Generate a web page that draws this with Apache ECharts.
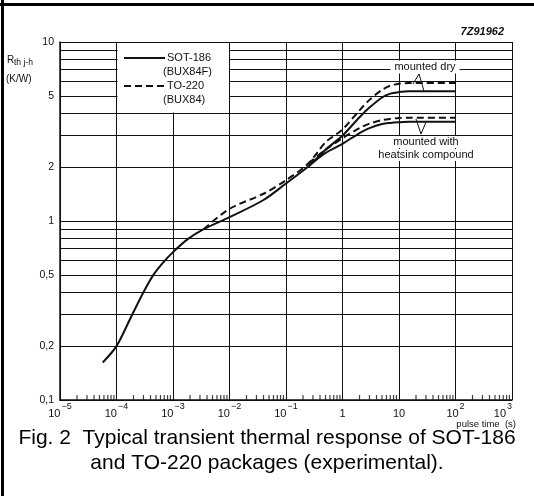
<!DOCTYPE html>
<html><head><meta charset="utf-8">
<script src="https://cdn.jsdelivr.net/npm/echarts@6/dist/echarts.min.js"></script>
<style>html,body{margin:0;padding:0;background:#fff}#c{width:534px;height:496px}</style>
</head><body><div id="c"></div>
<script>
// ---- tick labels ----
const xTickBase = ['10','10','10','10','10','1','10','10','10'];
const xTickExp  = ['−5','−4','−3','−2','−1','','','2','3'];
const yTickValues = [0.1, 0.2, 0.5, 1, 2, 5, 10];
const yTickLabels = ['0,1','0,2','0,5','1','2','5','10'];
const yGridValues = [0.2,0.3,0.4,0.5,0.6,0.7,0.8,0.9,2,3,4,5,6,7,8,9];
const minorMultipliers = [2,3,4,5,6,7,8,9];
const decadeStarts = [1e-5,1e-4,1e-3,1e-2,1e-1,1,10,100];

// ---- data: pulse time (s) and R_th j-h (K/W) ----
const sotCommonTime = [5.7e-5,1e-4,1.8e-4,3e-4,4.5e-4,6.5e-4,1e-3,1.8e-3,3.5e-3,1e-2,4e-2,0.1,0.25];
const sotCommonR    = [0.162,0.2,0.29,0.40,0.50,0.58,0.67,0.79,0.90,1.05,1.31,1.62,2.02];
const to220CommonTime = [3.5e-3,1e-2,4e-2,0.1,0.25];
const to220CommonR    = [0.90,1.17,1.42,1.69,2.1];
const branchTime = [0.25,0.5,1,2,3,5,7,10,15,100];
const sotDryR    = [2.02,2.5,3.0,3.8,4.3,4.9,5.15,5.25,5.3,5.3];
const sotHeatR   = [2.02,2.4,2.7,3.1,3.3,3.48,3.53,3.56,3.58,3.58];
const to220DryR  = [2.1,2.75,3.25,4.15,4.75,5.4,5.7,5.85,5.9,5.9];
const to220HeatR = [2.1,2.5,2.9,3.3,3.5,3.66,3.72,3.76,3.78,3.78];

const pairs = (ts, vs) => ts.map((t, i) => [t, vs[i]]);
const minorTicks = [];
decadeStarts.forEach(d => minorMultipliers.forEach(m => minorTicks.push([d * m, 0.1])));

const FONT = '"Liberation Sans", Arial, Helvetica, sans-serif';
const INK = '#111';

const chart = echarts.init(document.getElementById('c'), null, {renderer: 'canvas'});

const solid = {color: INK, width: 2, type: 'solid'};
const dashed = {color: INK, width: 2, type: [7, 4]};

const gridLineData = yGridValues.map(v => ({yAxis: v}));
const labelLineData = yTickValues.map((v, i) => ({
  yAxis: v,
  lineStyle: {color: 'rgba(0,0,0,0)', width: 1},
  label: {show: true, position: 'start', formatter: yTickLabels[i], distance: 6,
          color: INK, fontSize: 10.5, fontFamily: FONT}
}));

chart.setOption({
  animation: false,
  backgroundColor: '#fff',
  grid: {left: 60, right: 22, top: 42, bottom: 96},
  xAxis: {
    type: 'log', logBase: 10, min: 1e-5, max: 1000, splitNumber: 8,
    axisLine: {show: true, lineStyle: {color: INK, width: 1.5}},
    axisTick: {show: false},
    splitLine: {show: true, lineStyle: {color: INK, width: 1}},
    axisLabel: {
      margin: 2, color: INK, fontFamily: FONT, alignMaxLabel: 'right',
      formatter: v => {
        const i = Math.round(Math.log10(v)) + 5;
        return xTickExp[i] ? '{b|' + xTickBase[i] + '}{s|' + xTickExp[i] + '}' : '{b|' + xTickBase[i] + '}';
      },
      rich: {
        b: {fontSize: 11, fontFamily: FONT, color: INK, lineHeight: 17, verticalAlign: 'bottom'},
        s: {fontSize: 9, fontFamily: FONT, color: INK, verticalAlign: 'top', padding: [0, 0, 0, 1]}
      }
    }
  },
  yAxis: {
    type: 'log', logBase: 10, min: 0.1, max: 10,
    axisLine: {show: true, lineStyle: {color: INK, width: 1.5}},
    axisTick: {show: false},
    axisLabel: {show: false},
    splitLine: {show: true, lineStyle: {color: INK, width: 1}}
  },
  series: [
    {
      name: 'grid', type: 'line', data: [], silent: true,
      markLine: {silent: true, symbol: 'none', animation: false,
        lineStyle: {color: INK, width: 1, type: 'solid'}, label: {show: false},
        data: gridLineData.concat(labelLineData)}
    },
    {
      name: 'minor ticks', type: 'scatter', data: minorTicks, silent: true, clip: false,
      symbol: 'rect', symbolSize: [1.2, 5], symbolOffset: [0, -2.5],
      itemStyle: {color: INK}
    },
    {name: 'SOT-186 mounted dry', type: 'line', showSymbol: false, smooth: 0.3,
     data: pairs(sotCommonTime, sotCommonR).concat(pairs(branchTime, sotDryR).slice(1)), lineStyle: solid, z: 5},
    {name: 'SOT-186 heatsink compound', type: 'line', showSymbol: false, smooth: 0.3,
     data: pairs(branchTime, sotHeatR), lineStyle: solid, z: 5},
    {name: 'TO-220 mounted dry', type: 'line', showSymbol: false, smooth: 0.3,
     data: pairs(to220CommonTime, to220CommonR).concat(pairs(branchTime, to220DryR).slice(1)), lineStyle: dashed, z: 5},
    {name: 'TO-220 heatsink compound', type: 'line', showSymbol: false, smooth: 0.3,
     data: pairs(branchTime, to220HeatR), lineStyle: dashed, z: 5}
  ],
  graphic: [
    // scan frame (top and left)
    {type: 'rect', shape: {x: 0, y: 3, width: 534, height: 3}, style: {fill: '#000'}, z: 100},
    {type: 'rect', shape: {x: 1, y: 0, width: 3, height: 496}, style: {fill: '#000'}, z: 100},
    // legend box
    {type: 'rect', shape: {x: 117.5, y: 43, width: 111.5, height: 69.5}, style: {fill: '#fff'}, z: 50},
    {type: 'line', shape: {x1: 124, y1: 58, x2: 165, y2: 58}, style: {stroke: INK, lineWidth: 2}, z: 51},
    {type: 'line', shape: {x1: 124, y1: 86, x2: 165, y2: 86}, style: {stroke: INK, lineWidth: 2, lineDash: [7, 4]}, z: 51},
    {type: 'text', x: 167, y: 58, z: 51, style: {text: 'SOT-186', font: '11px ' + FONT, fill: INK, textAlign: 'left', textVerticalAlign: 'middle'}},
    {type: 'text', x: 163, y: 72, z: 51, style: {text: '(BUX84F)', font: '11px ' + FONT, fill: INK, textAlign: 'left', textVerticalAlign: 'middle'}},
    {type: 'text', x: 167, y: 86, z: 51, style: {text: 'TO-220', font: '11px ' + FONT, fill: INK, textAlign: 'left', textVerticalAlign: 'middle'}},
    {type: 'text', x: 163, y: 100, z: 51, style: {text: '(BUX84)', font: '11px ' + FONT, fill: INK, textAlign: 'left', textVerticalAlign: 'middle'}},
    // y axis title
    {type: 'text', x: 7, y: 60, z: 51, style: {text: 'R', font: '10px ' + FONT, fill: INK, textAlign: 'left', textVerticalAlign: 'middle'}},
    {type: 'text', x: 14, y: 63, z: 51, style: {text: 'th j-h', font: '8.5px ' + FONT, fill: INK, textAlign: 'left', textVerticalAlign: 'middle'}},
    {type: 'text', x: 6, y: 79, z: 51, style: {text: '(K/W)', font: '10px ' + FONT, fill: INK, textAlign: 'left', textVerticalAlign: 'middle'}},
    // figure code
    {type: 'text', x: 504, y: 32, z: 51, style: {text: '7Z91962', font: 'italic bold 11px ' + FONT, fill: INK, textAlign: 'right', textVerticalAlign: 'middle'}},
    // annotations
    {type: 'text', x: 425, y: 67, z: 51, style: {text: 'mounted dry', font: '11px ' + FONT, fill: INK, textAlign: 'center', textVerticalAlign: 'middle', backgroundColor: '#fff', padding: [1, 4, 1, 4]}},
    {type: 'polyline', shape: {points: [[413, 84], [419, 74], [424, 91]]}, style: {stroke: INK, lineWidth: 1, fill: null}, z: 51},
    {type: 'text', x: 426, y: 142, z: 51, style: {text: 'mounted with', font: '11px ' + FONT, fill: INK, textAlign: 'center', textVerticalAlign: 'middle', backgroundColor: '#fff', padding: [1, 3, 0, 3]}},
    {type: 'text', x: 426, y: 155, z: 51, style: {text: 'heatsink compound', font: '11px ' + FONT, fill: INK, textAlign: 'center', textVerticalAlign: 'middle', backgroundColor: '#fff', padding: [0, 3, 1, 3]}},
    {type: 'polyline', shape: {points: [[416, 119], [421, 134], [426, 122]]}, style: {stroke: INK, lineWidth: 1, fill: null}, z: 51},
    // axis name
    {type: 'text', x: 516, y: 424, z: 51, style: {text: 'pulse time  (s)', font: '9.5px ' + FONT, fill: INK, textAlign: 'right', textVerticalAlign: 'middle'}},
    // caption
    {type: 'text', x: 267, y: 438, z: 51, style: {text: 'Fig. 2  Typical transient thermal response of SOT-186', font: '21px ' + FONT, fill: '#000', textAlign: 'center', textVerticalAlign: 'middle'}},
    {type: 'text', x: 267, y: 463, z: 51, style: {text: 'and TO-220 packages (experimental).', font: '21px ' + FONT, fill: '#000', textAlign: 'center', textVerticalAlign: 'middle'}}
  ]
});
</script></body></html>
